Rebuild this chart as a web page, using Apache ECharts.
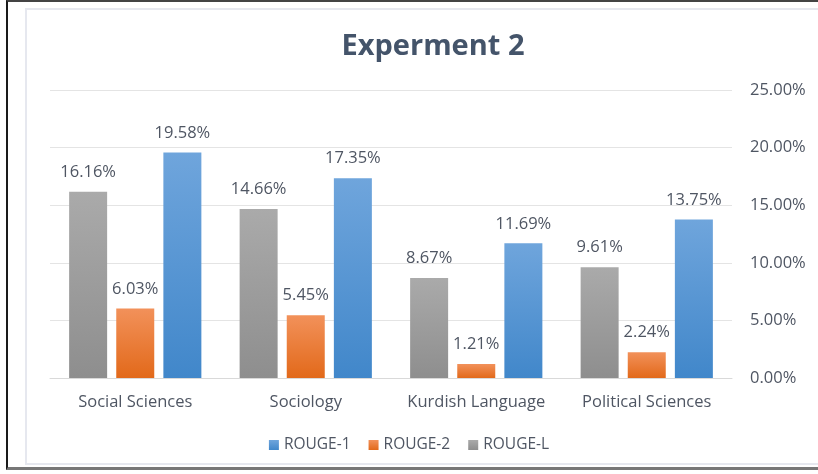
<!DOCTYPE html>
<html><head><meta charset="utf-8">
<script src="https://cdn.jsdelivr.net/npm/echarts@6/dist/echarts.min.js"></script>
<style>
html,body{margin:0;padding:0;background:#fff;width:818px;height:474px;overflow:hidden;}
#frame{position:absolute;left:6px;top:0;width:830px;height:470px;border-left:2px solid #1a1a1a;border-top:2px solid #444;border-bottom:3px solid #777;box-sizing:border-box;}
#inner{position:absolute;left:25px;top:8px;width:820px;height:457px;border:2px solid #e6e8ef;box-sizing:border-box;}
#chart{position:absolute;left:0;top:0;width:818px;height:474px;}
</style></head>
<body>
<div id="frame"></div><div id="inner"></div>
<div id="chart"></div>
<script>
const categories = ['Social Sciences','Sociology','Kurdish Language','Political Sciences'];
const rougeL = [16.16, 14.66, 8.67, 9.61];
const rouge2 = [6.03, 5.45, 1.21, 2.24];
const rouge1 = [19.58, 17.35, 11.69, 13.75];
const yTicks = [0, 5, 10, 15, 20, 25];

const txt = '#4f5663';
const chart = echarts.init(document.getElementById('chart'), null, {renderer:'canvas'});
function grad(top, bottom){
  return new echarts.graphic.LinearGradient(0,0,0,1,[{offset:0,color:top},{offset:1,color:bottom}]);
}
const lbl = {show:true, position:'top', distance:11, color:txt, fontSize:16.5, fontFamily:'Open Sans', formatter:p=>p.value.toFixed(2)+'%'};
chart.setOption({
  animation:false,
  title:{text:'Experment 2', left:428, textAlign:'center', top:27, textStyle:{fontFamily:'Open Sans', fontWeight:'bold', fontSize:29, color:'#44546A'}},
  legend:{bottom:16, left:'center', data:['ROUGE-1','ROUGE-2','ROUGE-L'], itemWidth:10, itemHeight:10, itemGap:18, icon:'rect',
    textStyle:{color:txt, fontSize:15.5, fontFamily:'Open Sans'}},
  grid:{left:50, right:86, top:90, bottom:96},
  xAxis:{type:'category', data:categories, axisTick:{show:false}, axisLine:{lineStyle:{color:'#d9d9d9'}},
    axisLabel:{color:txt, fontSize:16.5, fontFamily:'Open Sans', margin:16, interval:0, hideOverlap:false}},
  yAxis:{type:'value', position:'right', min:yTicks[0], max:yTicks[yTicks.length-1], interval:5,
    axisLine:{show:false}, axisTick:{show:false}, splitLine:{lineStyle:{color:'#e4e4e4'}},
    axisLabel:{color:txt, fontSize:16.5, fontFamily:'Open Sans', margin:18, formatter:v=>v.toFixed(2)+'%'}},
  series:[
    {name:'ROUGE-L', type:'bar', data:rougeL, barWidth:38, barGap:'24%', label:lbl, itemStyle:{color:grad('#aaaaaa','#8e8e8e')}},
    {name:'ROUGE-2', type:'bar', data:rouge2, barWidth:38, barGap:'24%', label:lbl, itemStyle:{color:grad('#f2915a','#e2691a')}},
    {name:'ROUGE-1', type:'bar', data:rouge1, barWidth:38, barGap:'24%', label:lbl, itemStyle:{color:grad('#6fa5dc','#4187ca')}}
  ]
});
</script>
</body></html>
